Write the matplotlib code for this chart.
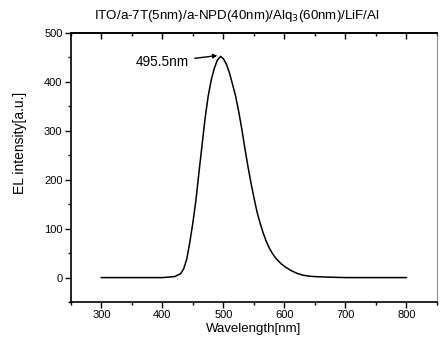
import matplotlib
matplotlib.use("Agg")
import matplotlib.pyplot as plt
from matplotlib.ticker import MultipleLocator

plt.rcParams['font.family'] = ['Liberation Sans', 'DejaVu Sans']

wavelength = [300, 350, 400, 420, 430, 435, 440, 445, 450, 455, 460, 465, 470, 475,
              480, 485, 490, 495.5, 500, 505, 510, 515, 520, 525, 530, 535, 540, 545,
              550, 555, 560, 565, 570, 575, 580, 585, 590, 595, 600, 610, 620, 630,
              640, 650, 670, 700, 750, 800]
intensity = [0, 0, 0, 2, 8, 18, 38, 72, 112, 158, 215, 270, 325, 370,
             403, 427, 444, 452, 447, 436, 418, 395, 371, 340, 305, 266, 229, 195,
             164, 135, 112, 92, 75, 61, 50, 41, 34, 28, 23, 15, 9, 5,
             3, 2, 1, 0, 0, 0]
peak_label = "495.5nm"
peak_wl = 495.5
peak_val = 452
title = "ITO/a-7T(5nm)/a-NPD(40nm)/Alq$_3$(60nm)/LiF/Al"

fig = plt.figure(figsize=(4.4, 3.46), dpi=100)
ax = fig.add_axes([0.161, 0.127, 0.832, 0.778])
ax.plot(wavelength, intensity, color='black', lw=1.1)
ax.set_xlim(250, 850)
ax.set_ylim(-50, 500)
ax.xaxis.set_minor_locator(MultipleLocator(50))
ax.yaxis.set_minor_locator(MultipleLocator(50))
ax.set_xticks([300, 400, 500, 600, 700, 800])
ax.set_yticks([0, 100, 200, 300, 400, 500])
ax.tick_params(which='both', direction='out', labelsize=8, width=1.0, pad=2)
ax.tick_params(which='major', length=4)
ax.tick_params(which='minor', length=2.5)
for s in ['left', 'bottom', 'top']:
    ax.spines[s].set_linewidth(1.2)
ax.spines['right'].set_linewidth(0.6)
ax.spines['right'].set_color('#777777')

top = ax.secondary_xaxis('top')
top.set_xticks([300, 400, 500, 600, 700, 800])
top.xaxis.set_minor_locator(MultipleLocator(50))
top.tick_params(which='both', direction='in', labeltop=False, width=1.0)
top.tick_params(which='major', length=4)
top.tick_params(which='minor', length=2)
top.spines['top'].set_linewidth(1.2)

ax.set_xlabel("Wavelength[nm]", fontsize=9.5, labelpad=2)
ax.set_ylabel("EL intensity[a.u.]", fontsize=10, labelpad=6)
ax.yaxis.set_label_coords(-0.119, 0.59)
fig.text(0.538, 0.955, title, fontsize=9.6, ha='center', va='center')

ax.annotate(peak_label, xy=(peak_wl - 3, peak_val + 2), xytext=(444, 440),
            fontsize=9.8, ha='right', va='center',
            arrowprops=dict(arrowstyle='-|>', color='black', lw=1.0,
                            mutation_scale=6, shrinkA=2, shrinkB=1))

fig.savefig("out.png", dpi=100)
